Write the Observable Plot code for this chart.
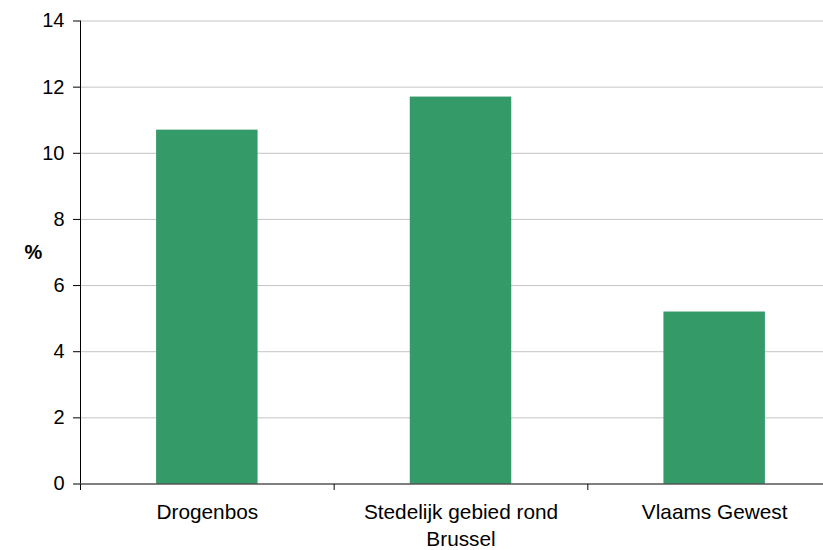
<!DOCTYPE html>
<html>
<head>
<meta charset="utf-8">
<script src="https://cdn.jsdelivr.net/npm/d3@7"></script>
<script src="https://cdn.jsdelivr.net/npm/@observablehq/plot@0.6"></script>
<style>
  html, body { margin: 0; padding: 0; background: #fff; }
</style>
</head>
<body>
<div id="chart"></div>
<script>
const categories = ["Drogenbos", "Stedelijk gebied rond\nBrussel", "Vlaams Gewest"];
const values = [10.7, 11.7, 5.2];
const yTicks = [0, 2, 4, 6, 8, 10, 12, 14];
const yLabel = "%";

const data = categories.map((name, i) => ({i, name, value: values[i]}));
const boundaries = d3.range(categories.length + 1);

const chart = Plot.plot({
  width: 823,
  height: 550,
  marginLeft: 80,
  marginRight: 0,
  marginTop: 20,
  marginBottom: 66,
  style: {fontSize: "20px", fontFamily: "'Liberation Sans', Arial, sans-serif", color: "#000", background: "#fff"},
  x: {domain: [0, categories.length], range: [80, 841], axis: null},
  y: {domain: [0, 14], range: [483.5, 20.5], axis: null},
  marks: [
    Plot.ruleY(yTicks.filter(v => v > 0), {stroke: "#c4c4c4", strokeWidth: 1}),
    Plot.rectY(data, {x1: d => d.i + 0.3, x2: d => d.i + 0.7, y: "value", fill: "#349a68"}),
    Plot.ruleY([0], {stroke: "#000"}),
    Plot.ruleX([0], {y1: 0, y2: 14, stroke: "#000"}),
    Plot.axisY({ticks: yTicks, tickSize: 7, tickPadding: 9, label: null, fontSize: 20}),
    Plot.axisX({ticks: boundaries, tickFormat: () => "", tickSize: 6, label: null}),
    Plot.text(data, {x: d => d.i + 0.5, y: 0, text: "name", lineAnchor: "top", dy: 16, lineHeight: 1.3, fontSize: 20.8, fill: "#000"}),
    Plot.text([yLabel], {frameAnchor: "left", dx: -47, text: d => d, fontWeight: "bold", fontSize: 20, textAnchor: "middle", fill: "#000"})
  ]
});
document.getElementById("chart").appendChild(chart);
</script>
</body>
</html>
